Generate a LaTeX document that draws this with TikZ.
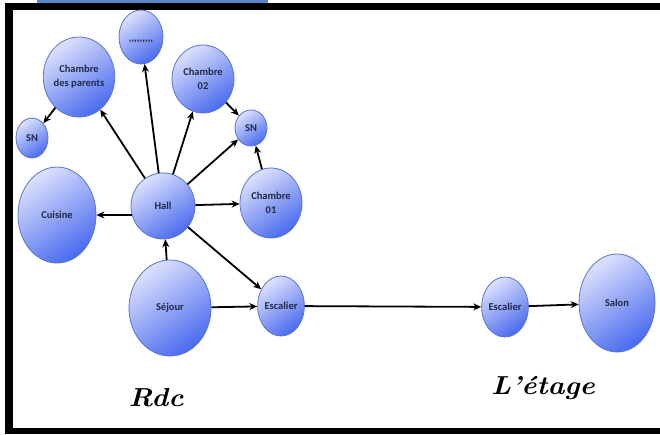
\documentclass[tikz,border=0pt]{standalone}
\usepackage{fontspec}
\newfontfamily\roomfont{Carlito}
\usetikzlibrary{shapes.geometric, arrows.meta, positioning}
\definecolor{RoomEdge}{HTML}{5873D6}
\definecolor{RoomLight}{HTML}{DCE1FD}
\definecolor{RoomMid}{HTML}{A3B3F8}
\definecolor{RoomDark}{HTML}{4A6BEE}
\definecolor{RoomText}{HTML}{1E2A48}
\definecolor{TitleBar}{HTML}{5B86C5}

\begin{document}
\begin{tikzpicture}[x=1pt, y=-1pt, >={Stealth[length=8pt,width=7pt]},
        room/.style={ellipse, draw=RoomEdge, line width=0.8pt, inner sep=0pt,
            top color=RoomLight, middle color=RoomMid, bottom color=RoomDark, shading angle=35,
            text=RoomText, align=center, font=\roomfont\bfseries\fontsize{10.5}{14}\selectfont},
        arrow/.style={->, line width=1.8pt, black},
        floorlabel/.style={font=\bfseries\itshape\fontsize{26}{30}\selectfont}]

        \useasboundingbox (0,0) rectangle (660,434);
        % page frame
        \fill[TitleBar] (37,0) rectangle (268,2.5);
        \fill[black] (5,2.5) rectangle (660,10);
        \fill[black] (5,2.5) rectangle (13,434);
        \fill[black] (5,428) rectangle (660,434);

        % ground floor
        \node[room, minimum width=64pt, minimum height=66pt] (hall) at (163,206) {Hall};
        \node[room, minimum width=78pt, minimum height=96pt] (cuisine) at (57,215) {Cuisine};
        \node[room, minimum width=68pt, minimum height=80pt] (parents) at (79,77) {Chambre\\des parents};
        \node[room, minimum width=32pt, minimum height=40pt] (snparents) at (32,138) {SN};
        \node[room, minimum width=44pt, minimum height=54pt] (dots) at (141,37) {\raisebox{-10pt}{,,,,,,,,,}};
        \node[room, minimum width=62pt, minimum height=68pt] (chdeux) at (203,79) {Chambre\\02};
        \node[room, minimum width=32pt, minimum height=36pt] (snch) at (251,128) {SN};
        \node[room, minimum width=62pt, minimum height=70pt] (chun) at (271,203) {Chambre\\01};
        \node[room, minimum width=82pt, minimum height=96pt] (sejour) at (170,308) {Séjour};
        \node[room, minimum width=46pt, minimum height=60pt] (escrdc) at (281,306) {Escalier};

        % upper floor
        \node[room, minimum width=44pt, minimum height=60pt] (escetage) at (505,307) {Escalier};
        \node[room, minimum width=76pt, minimum height=98pt] (salon) at (617,303) {Salon};

        \node[floorlabel] (rdc) at (156,398) {\scalebox{1.1}[1]{Rdc}};
        \node[floorlabel] (etage) at (543,388) {\scalebox{1.1}[1]{L'étage}};

        \draw[arrow] (hall) -- (parents);
        \draw[arrow] (hall) -- (dots);
        \draw[arrow] (hall) -- (chdeux);
        \draw[arrow] (hall) -- (snch);
        \draw[arrow] (hall) -- (chun);
        \draw[arrow] (hall.196) -- (cuisine.east);
        \draw[arrow] (hall) -- (escrdc);
        \draw[arrow] (sejour) -- (hall);
        \draw[arrow] (sejour) -- (escrdc);
        \draw[arrow] (parents) -- (snparents);
        \draw[arrow] (chdeux) -- (snch);
        \draw[arrow] (chun) -- (snch);
        \draw[arrow] (escrdc) -- (escetage);
        \draw[arrow] (escetage) -- (salon);
    \end{tikzpicture}
\end{document}
